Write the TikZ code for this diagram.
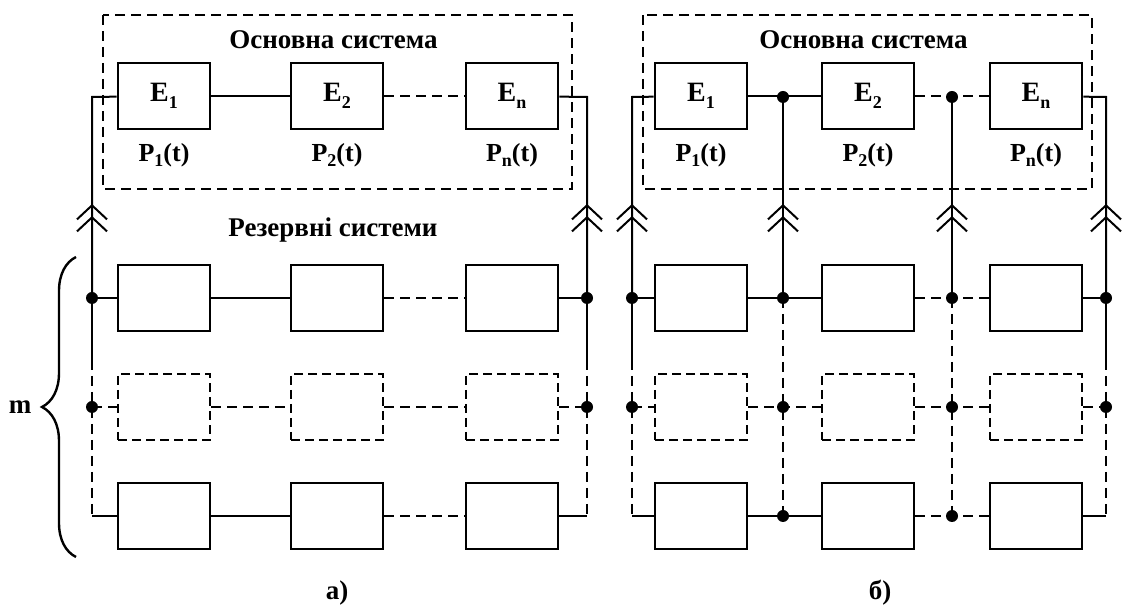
\documentclass[tikz,border=0pt]{standalone}
\usepackage{fontspec}
\setmainfont{Liberation Serif}
\usetikzlibrary{arrows.meta,decorations.markings,decorations.pathreplacing}
\newcommand\lowi[1]{\raisebox{-0.5ex}{\fontsize{9}{10}\selectfont#1}}

\begin{document}
\begin{tikzpicture}[
  x=0.5pt, y=-0.5pt,
  elem/.style={
    draw, line width=1.3pt,
    minimum width=46pt, minimum height=33pt, inner sep=0pt,
    font=\fontsize{14}{16}\selectfont\bfseries,
  },
  spare/.style={elem, dash pattern=on 4.5pt off 2.5pt},
  link/.style={line width=1pt},
  gap/.style={link, dash pattern=on 5pt off 3pt},
  frame/.style={line width=1.2pt, dash pattern=on 5pt off 3pt},
  joint/.style={circle, fill, inner sep=0pt, minimum size=6pt},
  caption/.style={font=\fontsize{13.5}{16}\selectfont\bfseries},
  prob/.style={font=\fontsize{13}{15}\selectfont\bfseries},
  chevrons/.style={
    postaction={decorate},
    decoration={markings,
      mark=at position 41pt with {\arrow{Straight Barb[length=7pt,width=15pt]}},
      mark=at position 47pt with {\arrow{Straight Barb[length=7pt,width=15pt]}}},
  },
]
\useasboundingbox (0,0) rectangle (1147,608);

% both variants share the same rows
\foreach \sys/\xl/\xa/\xb/\xc/\xr/\fl/\fr in
    {a/92/164/337/512/587/103/572, b/632/701/868/1036/1106/643/1092} {
  \draw[frame] (\fl,15) rectangle (\fr,189);
  \node[caption] (\sys head) at ({(\fl+\fr)/2-4},40) {Основна система};

  % main system
  \node[elem] (\sys e1) at (\xa,96) {E\lowi{1}};
  \node[elem] (\sys e2) at (\xb,96) {E\lowi{2}};
  \node[elem] (\sys en) at (\xc,96) {E\lowi{n}};
  \node[prob] (\sys p1) at (\xa,155) {P\lowi{1}(t)};
  \node[prob] (\sys p2) at (\xb,155) {P\lowi{2}(t)};
  \node[prob] (\sys pn) at (\xc,155) {P\lowi{n}(t)};

  % reserve systems
  \node[elem]  (\sys11) at (\xa,298) {};
  \node[elem]  (\sys12) at (\xb,298) {};
  \node[elem]  (\sys13) at (\xc,298) {};
  \node[spare] (\sys21) at (\xa,407) {};
  \node[spare] (\sys22) at (\xb,407) {};
  \node[spare] (\sys23) at (\xc,407) {};
  \node[elem]  (\sys31) at (\xa,516) {};
  \node[elem]  (\sys32) at (\xb,516) {};
  \node[elem]  (\sys33) at (\xc,516) {};

  \foreach \r/\y in {0/97, 1/298, 2/407, 3/516} {
    \coordinate (\sys L\r) at (\xl,\y);
    \coordinate (\sys R\r) at (\xr,\y);
  }
  \coordinate (\sys Lm) at (\xl,360);
  \coordinate (\sys Rm) at (\xr,360);

  \draw[link, chevrons] (\sys L1) -- (\sys L0) -- (\sys e1);
  \draw[link, chevrons] (\sys R1) -- (\sys R0) -- (\sys en);
  \draw[link] (\sys e1) -- (\sys e2);
  \draw[gap] (\sys e2) -- (\sys en);

  \draw[link] (\sys L1) -- (\sys11) -- (\sys12);
  \draw[gap] (\sys12) -- (\sys13);
  \draw[link] (\sys13) -- (\sys R1);
  \draw[gap] (\sys L2) -- (\sys21) -- (\sys22) -- (\sys23) -- (\sys R2);
  \draw[link] (\sys L3) -- (\sys31) -- (\sys32);
  \draw[gap] (\sys32) -- (\sys33);
  \draw[link] (\sys33) -- (\sys R3);

  \draw[link] (\sys L1) -- (\sys Lm);
  \draw[gap] (\sys Lm) -- (\sys L3);
  \draw[link] (\sys R1) -- (\sys Rm);
  \draw[gap] (\sys Rm) -- (\sys R3);

  \foreach \p in {L1, L2, R1, R2}
    \node[joint] (\sys j\p) at (\sys\p) {};
}

% cross links of variant b
\foreach \m/\x in {M/783, N/952} {
  \foreach \r/\y in {0/97, 1/298, 2/407, 3/516}
    \coordinate (b\m\r) at (\x,\y);
  \draw[link, chevrons] (b\m1) -- (b\m0);
  \draw[gap] (b\m1) -- (b\m3);
  \foreach \r in {0, 1, 2, 3}
    \node[joint] (bj\m\r) at (b\m\r) {};
}

\node[caption] (reserve) at (333,230) {Резервні системи};

% m reserve rows
\coordinate (bracelo) at (76,557);
\coordinate (bracehi) at (76,257);
\draw[line width=1.2pt, decorate, decoration={brace, amplitude=17pt}]
  (bracelo) -- (bracehi);
\node[caption] (mcount) at (20,407) {m};

\node[caption] (capa) at (337,593) {а)};
\node[caption] (capb) at (880,593) {б)};

\end{tikzpicture}
\end{document}
